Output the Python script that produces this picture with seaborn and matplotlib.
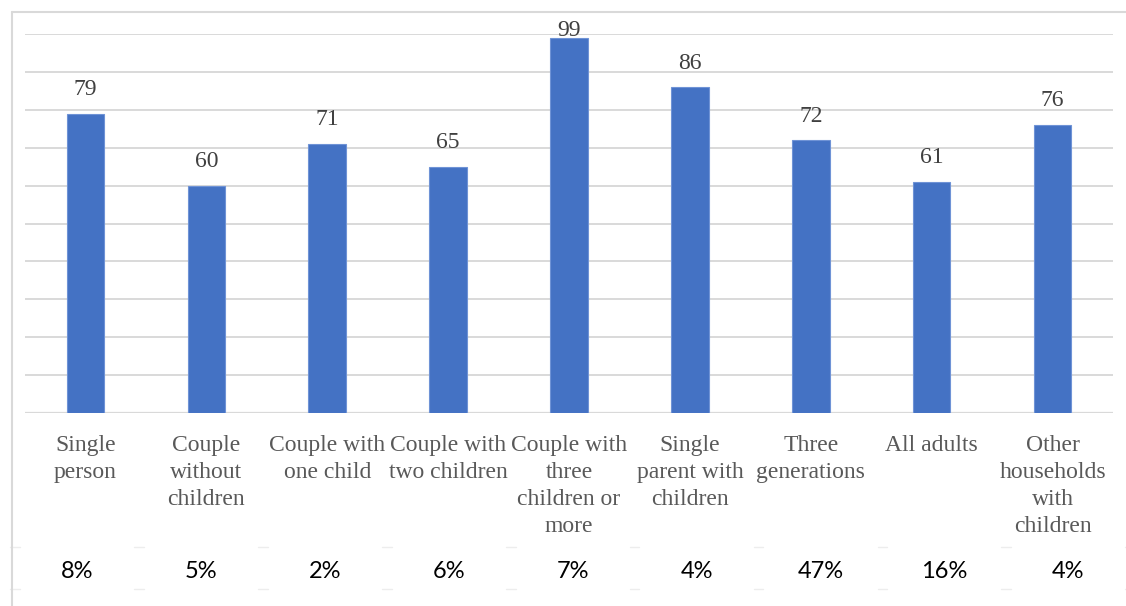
import matplotlib
matplotlib.use("Agg")
import matplotlib.pyplot as plt
import matplotlib.transforms as mtransforms
from matplotlib import font_manager
from matplotlib.lines import Line2D
import seaborn as sns
import pandas as pd

# Household types, score per type and share of households
categories = [
    "Single\nperson",
    "Couple\nwithout\nchildren",
    "Couple with\none child",
    "Couple with\ntwo children",
    "Couple with\nthree\nchildren or\nmore",
    "Single\nparent with\nchildren",
    "Three\ngenerations",
    "All adults",
    "Other\nhouseholds\nwith\nchildren",
]
values = [79, 60, 71, 65, 99, 86, 72, 61, 76]
shares = ["8%", "5%", "2%", "6%", "7%", "4%", "47%", "16%", "4%"]

df = pd.DataFrame({"household": categories, "value": values})

sns.set_theme(style="white")

# regular Liberation Serif face for the category and value labels
serif_files = [f for f in font_manager.fontManager.ttflist
               if f.name == "Liberation Serif" and f.style == "normal" and f.weight in (400, "normal")]
if not serif_files:
    names = sorted({f.name for f in font_manager.fontManager.ttflist})
    raise SystemExit("serif face not found; available: " + ", ".join(names))
serif = font_manager.FontProperties(fname=serif_files[0].fname)
plt.rcParams["font.family"] = ["Liberation Serif", "DejaVu Serif"]

W, H = 1126, 606
fig = plt.figure(figsize=(W / 100, H / 100), dpi=100)
ax = fig.add_axes([25 / W, (H - 413) / H, 1088 / W, (413 - 34) / H])

sns.barplot(data=df, x="household", y="value", order=categories,
            color="#4472C4", width=0.31, saturation=1, ax=ax,
            edgecolor="#6f93d6", linewidth=0.8, zorder=3)

ax.set_ylim(0, 100)
ax.set_xlim(-0.5, len(categories) - 0.5)
ax.set_yticks(range(10, 101, 10))
ax.yaxis.grid(True, color="#d9d9d9", linewidth=1.4, zorder=0)
ax.axhline(0, color="#d9d9d9", linewidth=1.6, zorder=2)
for s in ax.spines.values():
    s.set_visible(False)
ax.set_yticklabels([])
ax.tick_params(axis="y", length=0)
ax.tick_params(axis="x", length=0, pad=16)
for lab in ax.get_xticklabels():
    lab.set_fontproperties(serif)
    lab.set_fontsize(17)
    lab.set_color("#595959")
    lab.set_linespacing(1.38)
    lab.set_va("top")
ax.set_xlabel("")
ax.set_ylabel("")

# value labels above bars, kept inside the plot area
px_per_unit = (413 - 34) / 100
for i, v in enumerate(values):
    off_px = min(24, (101 - v) * px_per_unit)
    ax.annotate(str(v), (i, v), xytext=(0, off_px * 0.72), textcoords="offset points",
                ha="center", va="center", fontproperties=serif, fontsize=17,
                color="#404040")

# share row beneath the categories
trans = mtransforms.blended_transform_factory(ax.transData, fig.transFigure)
for i, s in enumerate(shares):
    ax.text(i * 1.025 - 0.07, 1 - 572 / H, s, transform=trans, ha="center",
            va="center", fontsize=17, color="black", family=["Lato", "DejaVu Sans"],
            clip_on=False)
for i in range(len(shares) + 1):
    xb = (i - 0.5) * 1.025 - 0.07
    for yy in (547, 589):
        ax.plot([xb - 0.04, xb + 0.04], [1 - yy / H] * 2, transform=trans,
                color="#ededed", linewidth=1, clip_on=False)

# outer frame
fig.add_artist(Line2D([12 / W, 12 / W], [0, 1 - 12 / H], transform=fig.transFigure,
                      color="#d9d9d9", linewidth=1.5))
fig.add_artist(Line2D([12 / W, 1], [1 - 12 / H, 1 - 12 / H], transform=fig.transFigure,
                      color="#d9d9d9", linewidth=1.5))

fig.savefig("out.png", dpi=100, facecolor="white")
